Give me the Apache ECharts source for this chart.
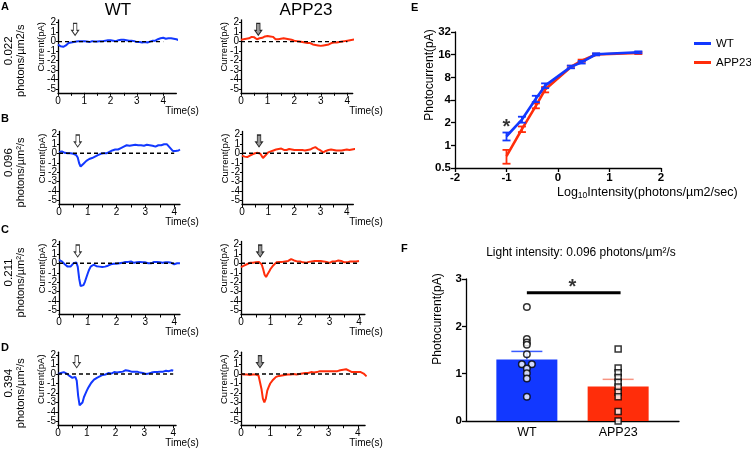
<!DOCTYPE html>
<html><head><meta charset="utf-8">
<script src="https://cdn.jsdelivr.net/npm/echarts@6/dist/echarts.min.js"></script>
<style>html,body{margin:0;padding:0;background:#fff}#c{width:751px;height:449px}</style>
</head><body><div id="c"></div>
<script>
// ---------- DATA ----------
const time = [0,0.05,0.1,0.15,0.2,0.25,0.3,0.35,0.4,0.45,0.5,0.55,0.6,0.65,0.7,0.75,0.8,0.85,0.9,0.95,1,1.05,1.1,1.15,1.2,1.25,1.3,1.35,1.4,1.45,1.5,1.55,1.6,1.65,1.7,1.75,1.8,1.85,1.9,1.95,2,2.05,2.1,2.15,2.2,2.25,2.3,2.35,2.4,2.45,2.5,2.55,2.6,2.65,2.7,2.75,2.8,2.85,2.9,2.95,3,3.05,3.1,3.15,3.2,3.25,3.3,3.35,3.4,3.45,3.5,3.55,3.6,3.65,3.7,3.75,3.8,3.85,3.9,3.95,4,4.05,4.1,4.15,4.2,4.25,4.3,4.35,4.4,4.45,4.5,4.55,4.6,4.65,4.7,4.75];

const wtA = [-0.30,-0.40,-0.50,-0.45,-0.55,-0.45,-0.40,-0.20,-0.15,-0.05,-0.10,0.00,-0.05,0.05,0.00,-0.05,0.05,0.00,0.05,-0.05,0.05,0.10,0.00,0.05,-0.05,0.00,0.05,-0.05,0.00,0.05,0.00,0.10,0.05,0.10,0.05,0.15,0.10,0.05,0.15,0.10,0.15,0.20,0.10,0.15,0.05,0.10,0.15,0.10,0.20,0.15,0.20,0.10,0.15,0.05,0.10,0.05,0.10,0.00,0.05,0.00,-0.05,-0.10,-0.05,-0.15,-0.10,-0.15,-0.05,-0.15,-0.10,-0.05,0.00,0.05,0.10,0.15,0.10,0.20,0.25,0.30,0.35,0.30,0.40,0.35,0.30,0.40,0.35,0.30,0.35,0.25,0.30,0.20,0.25,0.20,0.15,0.20,0.15,0.10];
const appA = [0.20,0.15,0.25,0.20,0.30,0.25,0.35,0.40,0.50,0.55,0.45,0.35,0.25,0.30,0.35,0.30,0.40,0.50,0.55,0.45,0.60,0.50,0.55,0.45,0.50,0.35,0.25,0.30,0.25,0.35,0.30,0.25,0.35,0.25,0.30,0.20,0.25,0.15,0.20,0.15,0.10,0.15,0.05,0.10,0.00,0.05,-0.05,0.00,-0.10,-0.05,-0.15,-0.20,-0.15,-0.25,-0.30,-0.25,-0.35,-0.30,-0.40,-0.35,-0.45,-0.35,-0.40,-0.30,-0.35,-0.25,-0.30,-0.20,-0.15,-0.20,-0.10,-0.05,-0.10,0.00,-0.05,0.05,0.00,0.10,0.05,0.15,0.10,0.20,0.15,0.25,0.20,0.15,0.25,0.20,0.10,0.20,0.15,0.10,0.20,0.15,0.10];
const wtB = [0.15,0.10,0.20,0.10,0.05,0.10,0.00,0.05,0.00,0.05,-0.05,-0.10,-0.20,-0.45,-1.05,-1.40,-1.25,-1.10,-0.95,-0.80,-0.75,-0.60,-0.65,-0.50,-0.45,-0.35,-0.30,-0.20,-0.10,-0.05,-0.10,0.00,0.05,0.00,0.10,0.15,0.20,0.30,0.35,0.40,0.45,0.40,0.50,0.55,0.60,0.70,0.75,0.85,0.90,0.80,0.90,0.85,0.80,0.90,0.95,0.85,0.90,0.85,0.95,0.80,0.80,0.90,0.95,0.85,0.90,0.80,0.75,0.70,0.70,0.85,0.90,0.85,0.90,0.95,1.05,0.95,0.80,0.60,0.40,0.25,0.30,0.25,0.35,0.30,0.40];
const appB = [-0.25,-0.20,-0.35,-0.30,-0.40,-0.30,-0.25,-0.15,-0.10,-0.05,0.00,0.05,0.05,0.10,-0.05,-0.25,-0.50,-0.35,-0.20,-0.05,0.10,0.05,0.20,0.25,0.30,0.25,0.40,0.35,0.45,0.40,0.50,0.40,0.35,0.45,0.35,0.40,0.45,0.35,0.40,0.30,0.35,0.25,0.35,0.40,0.35,0.45,0.35,0.30,0.30,0.40,0.35,0.30,0.40,0.45,0.55,0.60,0.65,0.55,0.45,0.35,0.30,0.20,0.10,0.15,0.25,0.30,0.35,0.45,0.40,0.30,0.35,0.40,0.30,0.35,0.30,0.40,0.30,0.25,0.35,0.30,0.40,0.30,0.35,0.45,0.40,0.35,0.45,0.40,0.50,0.45,0.50,0.55,0.60,0.50,0.65,0.60];
const wtC = [0.35,0.30,0.20,0.05,-0.10,-0.25,-0.35,-0.45,-0.35,-0.15,0.00,0.05,0.10,-0.35,-1.60,-2.40,-2.45,-2.30,-1.95,-1.50,-1.05,-0.65,-0.35,-0.20,-0.15,-0.25,-0.30,-0.25,-0.35,-0.30,-0.40,-0.30,-0.35,-0.20,-0.25,-0.15,-0.10,-0.15,-0.05,0.00,-0.05,0.05,0.00,0.10,0.05,0.10,0.15,0.05,0.15,0.10,0.20,0.10,0.05,0.15,0.10,0.20,0.15,0.05,0.10,0.15,0.10,0.05,0.00,-0.05,0.00,0.10,0.15,0.10,0.15,0.05,0.10,0.00,0.05,0.15,0.10,0.05,0.10,0.15,0.05,0.00,-0.10,0.05,0.00,0.10,0.00];
const appC = [-0.40,-0.30,-0.25,-0.15,-0.10,0.00,0.05,0.10,0.05,0.15,0.10,0.15,0.15,0.10,-0.10,-0.60,-1.20,-1.45,-1.15,-0.90,-0.60,-0.40,-0.20,-0.05,0.10,0.05,0.15,0.20,0.15,0.25,0.20,0.30,0.25,0.40,0.45,0.35,0.30,0.25,0.20,0.25,0.20,0.15,0.10,0.15,0.05,0.10,0.15,0.10,0.20,0.15,0.25,0.30,0.25,0.20,0.25,0.15,0.20,0.25,0.15,0.10,0.05,0.15,0.20,0.15,0.20,0.25,0.30,0.20,0.25,0.15,0.10,0.05,0.10,0.15,0.20,0.15,0.20,0.25,0.20,0.30,0.25];
const wtD = [0.00,0.10,0.10,0.20,0.20,0.15,0.05,-0.05,-0.20,-0.30,-0.40,-0.30,-0.30,-0.70,-2.30,-3.30,-3.45,-3.00,-2.45,-2.10,-1.75,-1.45,-1.20,-0.95,-0.75,-0.60,-0.50,-0.40,-0.30,-0.25,-0.20,-0.10,0.00,-0.05,0.05,0.10,0.10,0.05,0.15,0.20,0.20,0.15,0.25,0.20,0.20,0.25,0.30,0.40,0.50,0.35,0.30,0.25,0.20,0.25,0.15,0.25,0.20,0.15,0.20,0.10,0.10,0.00,-0.05,0.05,0.10,0.15,0.10,0.20,0.15,0.20,0.15,0.25,0.20,0.25,0.30,0.35,0.40,0.30,0.30,0.40,0.35];
const appD = [0.00,0.05,-0.05,0.00,-0.05,0.00,-0.10,-0.05,-0.05,-0.10,-0.05,-0.10,-0.15,-0.30,-1.55,-2.60,-3.00,-2.60,-1.75,-1.35,-1.00,-0.80,-0.60,-0.45,-0.30,-0.25,-0.20,-0.15,-0.15,-0.10,-0.10,-0.05,-0.05,0.00,-0.05,0.00,0.00,0.05,-0.05,0.00,0.00,0.05,0.05,0.10,0.10,0.15,0.10,0.20,0.20,0.25,0.15,0.20,0.20,0.25,0.30,0.25,0.30,0.35,0.30,0.25,0.30,0.35,0.30,0.25,0.30,0.35,0.30,0.40,0.40,0.35,0.45,0.40,0.50,0.45,0.35,0.25,0.20,0.25,0.20,0.15,0.20,0.15,0.20,0.10,0.05,-0.05,-0.25];

const intensities = ['0.022', '0.096', '0.211', '0.394'];
const unitLabels = ['photons/\u00b5m2/s', 'photons/\u00b5m\u00b2/s', 'photons/\u00b5m\u00b2/s', 'photons/\u00b5m\u00b2/s'];
const yTicks = [-5, -4, -3, -2, -1, 0, 1, 2];
// same tick labels, listed so that neighbours in the list are never neighbours on the axis
const yLabelValues = [0, -5, 2, -3, -1, 1, -4, -2];
const tLabels = [0, 1, 2, 3, 4];
const tTicks = [0, 0.5, 1, 1.5, 2, 2.5, 3, 3.5, 4];
const stimT = 0.65, arrowY = 1.3, dashEnd = 4.0;

// Panel E
const logIntensity = [-1, -0.7, -0.43, -0.25, 0.25, 0.46, 0.74, 1.56];
const wtE = [1.32, 2.2, 4.15, 6.2, 11.0, 12.7, 16.2, 17.2];
const wtEerr = [0.16, 0.2, 0.4, 0.45, 0.45, 0.5, 0.5, 0.5];
const appE = [0.72, 1.64, 3.35, 5.5, 11.0, 13.3, 16.1, 16.8];
const appEerr = [0.15, 0.14, 0.25, 0.45, 0.4, 0.45, 0.4, 0.5];
const starE = [-1, 1.7];

// Panel F
const fCats = ['WT', 'APP23'];
const fMeans = [1.30, 0.73];
const fSem = [0.17, 0.15];
const fWT = [2.41, 1.73, 1.66, 1.61, 1.41, 1.2, 1.2, 1.11, 1.01, 0.90, 0.51];
const fWTjit = [0, 0, 0, 0, 0, -5, 5, 0, 0, 0, 0];
const fAPP = [1.52, 1.12, 1.02, 0.92, 0.82, 0.72, 0.61, 0.51, 0.2, 0.0];
const sigY = 2.71, starFY = 2.83;

// ---------- STYLE / LAYOUT ----------
const FONT = 'Liberation Sans, Arial, Helvetica, sans-serif';
const BLUE = '#1238ff', RED = '#ff2d0a';
const rowTop = [19.8, 131.5, 241.5, 352.2];
const rowH = 73;
const nameCX = [182, 366];
const panels = [
  {row:0, left:58,  ppu:26.3, xmax:4.5,  vals:wtA,  g:0},
  {row:0, left:241, ppu:26.6, xmax:4.2,  vals:appA, g:1},
  {row:1, left:59,  ppu:28.8, xmax:4.2,  vals:wtB,  g:0},
  {row:1, left:242, ppu:26.2, xmax:4.25, vals:appB, g:1},
  {row:2, left:59,  ppu:28.8, xmax:4.2,  vals:wtC,  g:0},
  {row:2, left:241, ppu:29.5, xmax:4.2,  vals:appC, g:1},
  {row:3, left:58,  ppu:28.8, xmax:4.1,  vals:wtD,  g:0},
  {row:3, left:241, ppu:29.2, xmax:4.25, vals:appD, g:1}
];
const arrowPath = 'path://M2,0 L6,0 L6,7 L8,7 L4,12 L0,7 L2,7 Z';

const grid = [], xAxis = [], yAxis = [], series = [], graphic = [];
const axLine = {onZero:false, lineStyle:{color:'#000', width:1.3}};

panels.forEach((p, i) => {
  const w = p.xmax * p.ppu;
  grid.push({left:p.left, top:rowTop[p.row], width:w, height:rowH, outerBoundsMode:'none', containLabel:false});
  xAxis.push({gridIndex:i, type:'value', min:0, max:p.xmax, splitLine:{show:false},
    axisLine:axLine, axisTick:{customValues:tTicks, length:3, lineStyle:{color:'#000', width:1}},
    axisLabel:{customValues:tLabels, fontSize:10, color:'#000', margin:3, fontFamily:FONT, hideOverlap:false},
    name:'Time(s)', nameLocation:'end', nameGap: nameCX[p.g] - (p.left + w), nameMoveOverlap:false,
    nameTextStyle:{fontSize:10, color:'#000', align:'center', verticalAlign:'top', padding:[13,0,0,0], fontFamily:FONT}});
  yAxis.push({gridIndex:i, type:'value', min:-5.4, max:2.3, splitLine:{show:false},
    axisLine:axLine, axisTick:{customValues:yTicks, length:2, lineStyle:{color:'#000'}},
    axisLabel:{customValues:yLabelValues, fontSize:10, color:'#000', margin:2, fontFamily:FONT, hideOverlap:false}});
  const col = p.g === 0 ? BLUE : RED;
  series.push({type:'line', xAxisIndex:i, yAxisIndex:i, data:p.vals.map((v, k) => [time[k], v]),
    showSymbol:false, clip:false, lineStyle:{color:col, width:2}, z:2, silent:true});
  series.push({type:'line', xAxisIndex:i, yAxisIndex:i, data:[[0, 0], [dashEnd, 0]], showSymbol:false,
    lineStyle:{color:'#000', width:1.4, type:[4, 3]}, z:3, silent:true});
  series.push({type:'scatter', xAxisIndex:i, yAxisIndex:i, data:[[stimT, arrowY]], symbol:arrowPath,
    symbolSize:[7, 12], itemStyle:{color:p.g === 0 ? '#fff' : '#808080', borderColor:'#000', borderWidth:1}, z:4, silent:true});
  graphic.push({type:'text', x:p.left - 17, y:rowTop[p.row] + 27, rotation:Math.PI / 2,
    style:{text:'Current(pA)', font:'9.5px ' + FONT, fill:'#000', align:'center', verticalAlign:'middle'}});
});

// titles and side labels
graphic.push({type:'text', x:118, y:10, style:{text:'WT', font:'17px ' + FONT, fill:'#000', align:'center', verticalAlign:'middle'}});
graphic.push({type:'text', x:306, y:10, style:{text:'APP23', font:'17px ' + FONT, fill:'#000', align:'center', verticalAlign:'middle'}});
const letterY = [1, 113, 224, 342];
['A', 'B', 'C', 'D'].forEach((L, r) => {
  graphic.push({type:'text', x:1, y:letterY[r], style:{text:L, font:'bold 11px ' + FONT, fill:'#000', align:'left', verticalAlign:'top'}});
  graphic.push({type:'text', x:9, y:rowTop[r] + 31, rotation:Math.PI / 2,
    style:{text:intensities[r], font:'11.5px ' + FONT, fill:'#000', align:'center', verticalAlign:'middle'}});
  graphic.push({type:'text', x:21, y:rowTop[r] + 41, rotation:Math.PI / 2,
    style:{text:unitLabels[r], font:'11px ' + FONT, fill:'#000', align:'center', verticalAlign:'middle'}});
});

// ---------- Panel E ----------
const gE = panels.length;
grid.push({left:455, top:32, width:206, height:136, outerBoundsMode:'none', containLabel:false});
xAxis.push({gridIndex:gE, type:'value', min:-2, max:2, interval:1, splitLine:{show:false}, axisLine:axLine,
  axisTick:{length:4, lineStyle:{color:'#000', width:1.3}},
  axisLabel:{fontSize:11.5, fontWeight:'bold', color:'#000', margin:4, fontFamily:FONT}});
yAxis.push({gridIndex:gE, type:'log', logBase:2, min:0.5, max:32, interval:1, splitLine:{show:false}, axisLine:axLine,
  axisTick:{length:4, lineStyle:{color:'#000', width:1.3}}, minorTick:{show:false},
  axisLabel:{fontSize:11.5, fontWeight:'bold', color:'#000', margin:4, fontFamily:FONT}});
function errE(color) {
  return function (params, api) {
    const x = api.value(0), y = api.value(1), e = api.value(2);
    const a = api.coord([x, y + e]), b = api.coord([x, y - e]);
    const st = {stroke:color, lineWidth:1.8};
    return {type:'group', children:[
      {type:'line', shape:{x1:a[0], y1:a[1], x2:b[0], y2:b[1]}, style:st},
      {type:'line', shape:{x1:a[0] - 4, y1:a[1], x2:a[0] + 4, y2:a[1]}, style:st},
      {type:'line', shape:{x1:b[0] - 4, y1:b[1], x2:b[0] + 4, y2:b[1]}, style:st}]};
  };
}
series.push({type:'line', name:'APP23', xAxisIndex:gE, yAxisIndex:gE, data:logIntensity.map((x, i) => [x, appE[i]]),
  showSymbol:false, lineStyle:{color:RED, width:2.6}, itemStyle:{color:RED}, z:3});
series.push({type:'custom', name:'appErr', xAxisIndex:gE, yAxisIndex:gE, renderItem:errE(RED),
  data:logIntensity.map((x, i) => [x, appE[i], appEerr[i]]), encode:{x:0, y:1}, z:3});
series.push({type:'line', name:'WT', xAxisIndex:gE, yAxisIndex:gE, data:logIntensity.map((x, i) => [x, wtE[i]]),
  showSymbol:false, lineStyle:{color:BLUE, width:2.6}, itemStyle:{color:BLUE}, z:4});
series.push({type:'custom', name:'wtErr', xAxisIndex:gE, yAxisIndex:gE, renderItem:errE(BLUE),
  data:logIntensity.map((x, i) => [x, wtE[i], wtEerr[i]]), encode:{x:0, y:1}, z:4});
series.push({type:'scatter', name:'starE', xAxisIndex:gE, yAxisIndex:gE, data:[starE], symbolSize:0,
  label:{show:true, position:'inside', formatter:'*', fontSize:20, fontWeight:'bold', color:'#000', fontFamily:FONT}, z:5});
graphic.push({type:'text', x:411, y:2, style:{text:'E', font:'bold 11px ' + FONT, fill:'#000', align:'left', verticalAlign:'top'}});
graphic.push({type:'text', x:430, y:75, rotation:Math.PI / 2,
  style:{text:'Photocurrent(pA)', font:'12px ' + FONT, fill:'#000', align:'center', verticalAlign:'middle'}});
graphic.push({type:'text', x:557, y:193, style:{
  text:'{a|Log}{b|10}{a|Intensity(photons/\u00b5m2/sec)}', fill:'#000', align:'left', verticalAlign:'middle',
  rich:{a:{fontSize:12.5, fontFamily:FONT, fill:'#000'}, b:{fontSize:8.5, fontFamily:FONT, fill:'#000', padding:[6, 0, 0, 0]}}}});

// ---------- Panel F ----------
const gF = gE + 1;
const catPos = [2, 5];
grid.push({left:466, top:279, width:213, height:142, outerBoundsMode:'none', containLabel:false});
xAxis.push({gridIndex:gF, type:'value', min:0, max:7, splitLine:{show:false}, axisLine:axLine, axisTick:{show:false},
  axisLabel:{customValues:catPos, formatter:v => fCats[catPos.indexOf(v)], fontSize:12.5, color:'#000', margin:5, fontFamily:FONT}});
yAxis.push({gridIndex:gF, type:'value', min:0, max:3, interval:1, splitLine:{show:false}, axisLine:axLine,
  axisTick:{length:4, lineStyle:{color:'#000', width:1.3}},
  axisLabel:{fontSize:11.5, fontWeight:'bold', color:'#000', margin:4, fontFamily:FONT}});
const barCols = [BLUE, RED], capCols = ['#3a5cff', '#f79482'];
series.push({type:'bar', name:'meanF', xAxisIndex:gF, yAxisIndex:gF, barWidth:61,
  data:catPos.map((x, i) => ({value:[x, fMeans[i]], itemStyle:{color:barCols[i]}})), z:2});
series.push({type:'custom', name:'semF', xAxisIndex:gF, yAxisIndex:gF, encode:{x:0, y:1},
  data:catPos.map((x, i) => [x, fMeans[i], fSem[i], i]),
  renderItem:function (params, api) {
    const x = api.value(0), y = api.value(1), e = api.value(2), k = api.value(3);
    const a = api.coord([x, y + e]), b = api.coord([x, y]);
    const st = {stroke:capCols[k], lineWidth:1.5};
    return {type:'group', children:[
      {type:'line', shape:{x1:a[0], y1:a[1], x2:b[0], y2:b[1]}, style:st},
      {type:'line', shape:{x1:a[0] - 15.5, y1:a[1], x2:a[0] + 15.5, y2:a[1]}, style:st}]};
  }, z:3});
series.push({type:'scatter', name:'ptsWT', xAxisIndex:gF, yAxisIndex:gF, symbol:'circle', symbolSize:6.5,
  data:fWT.map((v, i) => ({value:[catPos[0], v], symbolOffset:[fWTjit[i], 0]})),
  itemStyle:{color:'#fff', borderColor:'#000', borderWidth:1.5}, z:4});
series.push({type:'scatter', name:'ptsAPP', xAxisIndex:gF, yAxisIndex:gF, symbol:'rect', symbolSize:6,
  data:fAPP.map(v => [catPos[1], v]), itemStyle:{color:'#fff', borderColor:'#000', borderWidth:1.5}, z:4});
series.push({type:'line', name:'sigF', xAxisIndex:gF, yAxisIndex:gF, data:[[catPos[0], sigY], [catPos[1] + 0.08, sigY]],
  showSymbol:false, lineStyle:{color:'#000', width:3}, z:4});
series.push({type:'scatter', name:'starF', xAxisIndex:gF, yAxisIndex:gF, data:[[(catPos[0] + catPos[1]) / 2, starFY]], symbolSize:0,
  label:{show:true, position:'inside', formatter:'*', fontSize:20, fontWeight:'bold', color:'#000', fontFamily:FONT}, z:5});
graphic.push({type:'text', x:401, y:243, style:{text:'F', font:'bold 11px ' + FONT, fill:'#000', align:'left', verticalAlign:'top'}});
graphic.push({type:'text', x:581, y:253, style:{text:'Light intensity: 0.096 photons/\u00b5m\u00b2/s', font:'12px ' + FONT, fill:'#000', align:'center', verticalAlign:'middle'}});
graphic.push({type:'text', x:438, y:319, rotation:Math.PI / 2,
  style:{text:'Photocurrent(pA)', font:'12px ' + FONT, fill:'#000', align:'center', verticalAlign:'middle'}});

const chart = echarts.init(document.getElementById('c'), null, {renderer:'canvas'});
chart.setOption({
  animation:false,
  backgroundColor:'#fff',
  textStyle:{fontFamily:FONT},
  legend:{data:['WT', 'APP23'], left:689, top:32, orient:'vertical', icon:'rect', itemWidth:17, itemHeight:3,
    itemGap:6, selectedMode:false, textStyle:{fontSize:11.5, color:'#000', fontFamily:FONT, lineHeight:13}},
  grid, xAxis, yAxis, series, graphic
});
</script></body></html>
